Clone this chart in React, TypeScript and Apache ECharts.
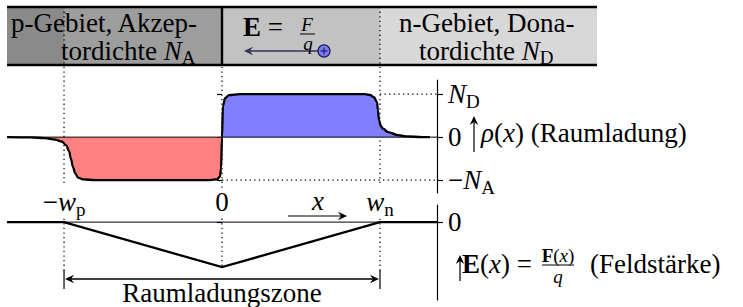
import React, { useEffect, useRef } from "react";
import * as echarts from "echarts";

const SERIF = "Liberation Serif, DejaVu Serif, serif";
const FS = 27;
const FS_SUB = 19;

// x in units of the depletion width: -w_p = -1, 0 = junction, w_n = +1
const X_RANGE = [-1.361, 1.361];
const edgeValues = [-1, 0, 1];
const edgeLabels = ["{m|−}{i|w}{s|p}", "{r|0}", "{i|w}{s|n}"];

// space charge rho(x) in units of N (N_D = 1, -N_A = -1)
const chargeX = [
  -1.361, -1.215, -1.12, -1.057, -1.013, -0.987, -0.968, -0.956, -0.943, -0.93,
  -0.911, -0.88, -0.804, -0.076, -0.032, -0.013, -0.006, 0, 0.006, 0.019, 0.044,
  0.114, 0.905, 0.937, 0.962, 0.981, 0.987, 0.994, 1.006, 1.019, 1.051, 1.114,
  1.177, 1.266, 1.316,
];
const chargeRho = [
  0, -0.005, -0.023, -0.058, -0.105, -0.186, -0.326, -0.512, -0.698, -0.837,
  -0.942, -0.984, -1, -1, -0.981, -0.919, -0.721, 0, 0.721, 0.907, 0.977,
  1, 1, 0.981, 0.93, 0.814, 0.628, 0.395, 0.256, 0.198, 0.116, 0.047,
  0.016, 0.002, 0,
];
const RHO_RANGE = [-1.3, 1.33];
const rhoTickValues = [-1, 0, 1];
const rhoTickLabels = ["{m|−}{i|N}{s|A}", "{r|0}", "{i|N}{s|D}"];

// dotted guide levels
const ndGuideX = [1, 1.361];
const ndGuideY = [1, 1];
const naGuideX = [0, 1.361];
const naGuideY = [-1, -1];

// field strength E(x) in units of |E_max|
const fieldX = [-1.361, -1, 0, 1, 1.361];
const fieldE = [0, 0, -1, 0, 0];
const E_RANGE = [-1.73, 0.38];
const eTickValues = [0];
const eTickLabels = ["{r|0}"];

const rich: any = {
  r: { fontFamily: SERIF, fontSize: FS, color: "#000" },
  i: { fontFamily: SERIF, fontSize: FS, fontStyle: "italic", color: "#000" },
  m: { fontFamily: SERIF, fontSize: FS, color: "#000" },
  b: { fontFamily: SERIF, fontSize: FS, fontWeight: "bold", color: "#000" },
  s: { fontFamily: SERIF, fontSize: FS_SUB, color: "#000", padding: [14, 0, 0, 0] },
  rs: { fontFamily: SERIF, fontSize: FS_SUB, lineHeight: 15, color: "#000" },
  is: { fontFamily: SERIF, fontSize: FS_SUB, lineHeight: 15, fontStyle: "italic", color: "#000" },
  bs: { fontFamily: SERIF, fontSize: FS_SUB, lineHeight: 15, fontWeight: "bold", color: "#000" },
  // tighter line boxes for the two-line header and the bottom caption
  hr: { fontFamily: SERIF, fontSize: FS, lineHeight: 26, color: "#000" },
  hi: { fontFamily: SERIF, fontSize: FS, lineHeight: 26, fontStyle: "italic", color: "#000" },
  hs: { fontFamily: SERIF, fontSize: FS_SUB, lineHeight: 17, color: "#000", padding: [12, 0, 0, 0] },
};

const lookup = (vals: number[], labels: string[]) => (v: number) => {
  const i = vals.findIndex((t) => Math.abs(t - v) < 1e-6);
  return i >= 0 ? labels[i] : "";
};

const BLACK = "#000";
const DOT: any = [1.3, 3.3];

function head(tx: number, ty: number, dir: "l" | "r" | "u", color = BLACK, z = 5) {
  const L = 9, W = 4.2, N = 6;
  let pts: number[][];
  if (dir === "l") pts = [[tx, ty], [tx + L, ty - W], [tx + N, ty], [tx + L, ty + W]];
  else if (dir === "r") pts = [[tx, ty], [tx - L, ty - W], [tx - N, ty], [tx - L, ty + W]];
  else pts = [[tx, ty], [tx - W, ty + L], [tx, ty + N], [tx + W, ty + L]];
  return { type: "polygon", z, shape: { points: pts }, style: { fill: color } };
}
function seg(x1: number, y1: number, x2: number, y2: number, w = 1.2, color = BLACK, z = 5, dash?: any) {
  return {
    type: "line", z,
    shape: { x1, y1, x2, y2 },
    style: { stroke: color, lineWidth: w, lineDash: dash },
  };
}
function txt(x: number, y: number, text: string, align = "left", z = 6) {
  return {
    type: "text", x, y, z,
    style: {
      text, rich, fontFamily: SERIF, fontSize: FS, fill: BLACK,
      textAlign: align, textVerticalAlign: "middle",
    },
  };
}

export default function App() {
  const ref = useRef<HTMLDivElement>(null);
  useEffect(() => {
    document.body.style.margin = "0";
    const chart = echarts.init(ref.current!, null, { renderer: "svg" });
    const pts = chargeX.map((x, i) => [x, chargeRho[i]]);
    const negPts = pts.filter((p) => p[0] <= 0);
    const posPts = pts.filter((p) => p[0] >= 0);
    const SM = 0.35;
    const axisLineStyle = { color: BLACK, width: 1.2 };

    const option: any = {
      animation: false,
      backgroundColor: "#fff",
      textStyle: { fontFamily: SERIF },
      grid: [
        { left: 7, top: 80, width: 430, height: 113, outerBoundsMode: "none", containLabel: false },
        { left: 7, top: 205, width: 430, height: 95, outerBoundsMode: "none", containLabel: false },
      ],
      xAxis: [
        {
          gridIndex: 0, type: "value", min: X_RANGE[0], max: X_RANGE[1], position: "bottom",
          axisLine: { show: false }, axisTick: { show: false }, splitLine: { show: false },
          axisLabel: {
            show: true, customValues: edgeValues, formatter: lookup(edgeValues, edgeLabels),
            rich, verticalAlign: "middle", margin: 9, backgroundColor: "#fff", padding: [0, 2],
          },
        },
        {
          gridIndex: 1, type: "value", min: X_RANGE[0], max: X_RANGE[1], show: false,
          splitLine: { show: false },
        },
      ],
      yAxis: [
        {
          gridIndex: 0, type: "value", position: "right", min: RHO_RANGE[0], max: RHO_RANGE[1],
          axisLine: { show: true, onZero: false, lineStyle: axisLineStyle },
          axisTick: { show: true, customValues: rhoTickValues, length: 6, lineStyle: axisLineStyle },
          axisLabel: {
            show: true, customValues: rhoTickValues, formatter: lookup(rhoTickValues, rhoTickLabels),
            rich, margin: 11,
          },
          splitLine: { show: false },
        },
        {
          gridIndex: 0, type: "value", position: "right", min: RHO_RANGE[0], max: RHO_RANGE[1],
          axisLine: { show: false },
          axisTick: { show: true, inside: true, customValues: rhoTickValues, length: 5, lineStyle: axisLineStyle },
          axisLabel: { show: false }, splitLine: { show: false },
        },
        {
          gridIndex: 1, type: "value", position: "right", min: E_RANGE[0], max: E_RANGE[1],
          axisLine: { show: true, onZero: false, lineStyle: axisLineStyle },
          axisTick: { show: true, customValues: eTickValues, length: 6, lineStyle: axisLineStyle },
          axisLabel: {
            show: true, customValues: eTickValues, formatter: lookup(eTickValues, eTickLabels),
            rich, margin: 11,
          },
          splitLine: { show: false },
        },
        {
          gridIndex: 1, type: "value", position: "right", min: E_RANGE[0], max: E_RANGE[1],
          axisLine: { show: false },
          axisTick: { show: true, inside: true, customValues: eTickValues, length: 5, lineStyle: axisLineStyle },
          axisLabel: { show: false }, splitLine: { show: false },
        },
      ],
      series: [
        {
          type: "line", xAxisIndex: 0, yAxisIndex: 0, data: negPts, smooth: SM, smoothMonotone: "x",
          symbol: "none", lineStyle: { width: 0, opacity: 0 }, areaStyle: { color: "#ff8080", opacity: 1 }, z: 2,
        },
        {
          type: "line", xAxisIndex: 0, yAxisIndex: 0, data: posPts, smooth: SM, smoothMonotone: "x",
          symbol: "none", lineStyle: { width: 0, opacity: 0 }, areaStyle: { color: "#8080ff", opacity: 1 }, z: 2,
        },
        {
          type: "line", xAxisIndex: 0, yAxisIndex: 0, data: [[X_RANGE[0], 0], [X_RANGE[1], 0]],
          symbol: "none", lineStyle: { color: BLACK, width: 1 }, z: 3,
        },
        {
          type: "line", xAxisIndex: 0, yAxisIndex: 0, data: ndGuideX.map((x, i) => [x, ndGuideY[i]]),
          symbol: "none", lineStyle: { color: BLACK, width: 1.2, type: DOT }, z: 3,
        },
        {
          type: "line", xAxisIndex: 0, yAxisIndex: 0, data: naGuideX.map((x, i) => [x, naGuideY[i]]),
          symbol: "none", lineStyle: { color: BLACK, width: 1.2, type: DOT }, z: 3,
        },
        {
          type: "line", xAxisIndex: 0, yAxisIndex: 0, data: pts, smooth: SM, smoothMonotone: "x",
          symbol: "none", lineStyle: { color: BLACK, width: 2.3 }, z: 4,
        },
        {
          type: "line", xAxisIndex: 1, yAxisIndex: 2, data: [[fieldX[1], 0], [fieldX[3], 0]],
          symbol: "none", lineStyle: { color: BLACK, width: 1 }, z: 3,
        },
        {
          type: "line", xAxisIndex: 1, yAxisIndex: 2, data: fieldX.map((x, i) => [x, fieldE[i]]),
          symbol: "none", lineStyle: { color: BLACK, width: 2.3, join: "miter" }, z: 4,
        },
      ],
    };
    chart.setOption(option);

    const px = (v: number) => chart.convertToPixel({ xAxisIndex: 0 }, v) as number;
    const xL = px(-1), x0 = px(0), xR = px(1);
    const xStart = px(X_RANGE[0]);
    const vBottom = chart.convertToPixel({ yAxisIndex: 2 }, -1) as number;
    const HT = 7, HB = 65, HR = 597;

    const g: any[] = [
      // header band
      { type: "rect", z: -3, shape: { x: xStart, y: HT, width: xL - xStart, height: HB - HT }, style: { fill: "#8a8a8a" } },
      { type: "rect", z: -3, shape: { x: xL, y: HT, width: x0 - xL, height: HB - HT }, style: { fill: "#9d9d9d" } },
      { type: "rect", z: -3, shape: { x: x0, y: HT, width: xR - x0, height: HB - HT }, style: { fill: "#c2c2c2" } },
      { type: "rect", z: -3, shape: { x: xR, y: HT, width: HR - xR, height: HB - HT }, style: { fill: "#d8d8d8" } },
      seg(xStart, HT, HR, HT, 2.4, BLACK, 1),
      seg(xStart, HB, HR, HB, 2.4, BLACK, 1),
      seg(x0, HT, x0, HB, 2.4, BLACK, 1),
      // dotted verticals
      seg(xL, HT, xL, 272, 1.2, BLACK, -1, DOT),
      seg(x0, HT, x0, vBottom, 1.2, BLACK, -1, DOT),
      seg(xR, HT, xR, 272, 1.2, BLACK, -1, DOT),
      // header texts
      txt(11, 23, "{hr|p-Gebiet, Akzep-}"),
      txt(61, 51, "{hr|tordichte }{hi|N}{hs|A}"),
      txt(399, 23, "{hr|n-Gebiet, Dona-}"),
      txt(419, 51, "{hr|tordichte }{hi|N}{hs|D}"),
      // E = F/q
      txt(243, 27, "{b|E}{r| =}"),
      txt(307, 24, "{is|F}", "center"),
      seg(300, 34, 315, 34, 1, BLACK, 6),
      txt(308, 43, "{is|q}", "center"),
      seg(250, 51, 318, 51, 1.6, "#33335c", 5),
      head(244, 51, "l", "#33335c"),
      { type: "circle", z: 6, shape: { cx: 324, cy: 51, r: 6 }, style: { fill: "#7b7bff", stroke: "#1a1a40", lineWidth: 1.2 } },
      seg(320.5, 51, 327.5, 51, 1.1, "#1a1a40", 7),
      seg(324, 47.5, 324, 54.5, 1.1, "#1a1a40", 7),
      // x direction arrow
      txt(318, 201, "{i|x}", "center"),
      seg(288, 216, 343, 216, 1.2, BLACK, 5),
      head(347, 216, "r"),
      // rho label
      seg(474, 152, 474, 121, 1.2, BLACK, 5),
      head(474, 116, "u"),
      txt(481, 133, "{i|ρ}{r|(}{i|x}{r|) (Raumladung)}"),
      // E label
      seg(460, 281, 460, 260, 1.2, BLACK, 5),
      head(460, 255, "u"),
      txt(462, 264, "{b|E}{r|(}{i|x}{r|) =}"),
      txt(558, 255, "{bs|F}{rs|(}{is|x}{rs|)}", "center"),
      seg(542, 265, 574, 265, 1, BLACK, 6),
      txt(558, 276, "{is|q}", "center"),
      txt(590, 264, "{r|(Feldstärke)}"),
      // Raumladungszone
      seg(xL, 270, xL, 289, 1.2, BLACK, 5),
      seg(xR, 270, xR, 289, 1.2, BLACK, 5),
      seg(xL + 5, 279, xR - 5, 279, 1.4, BLACK, 5),
      head(xL + 1, 279, "l"),
      head(xR - 1, 279, "r"),
      txt(x0, 293, "{hr|Raumladungszone}", "center"),
    ];
    chart.setOption({ graphic: g });
    return () => chart.dispose();
  }, []);
  return (
    <div
      ref={ref}
      style={{ position: "fixed", left: 0, top: 0, width: 743, height: 307, background: "#fff" }}
    />
  );
}
